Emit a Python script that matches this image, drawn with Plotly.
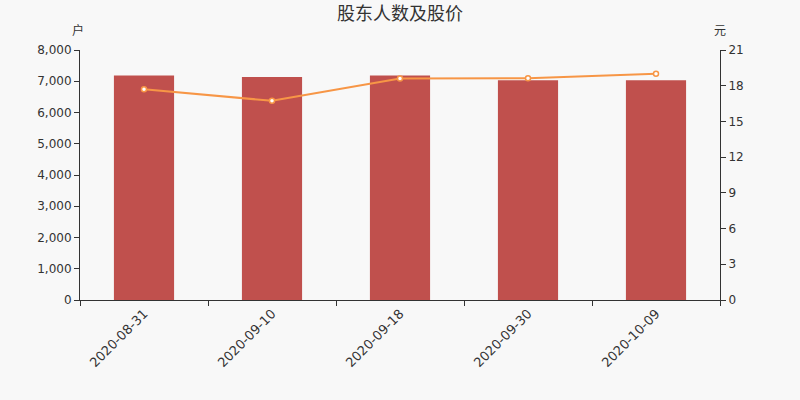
import plotly.graph_objects as go

# 数据
dates = ["2020-08-31", "2020-09-10", "2020-09-18", "2020-09-30", "2020-10-09"]
holders = [7185, 7135, 7185, 7035, 7035]
prices = [17.71, 16.73, 18.61, 18.63, 19.00]

left_ticks = [0, 1000, 2000, 3000, 4000, 5000, 6000, 7000, 8000]
right_ticks = [0, 3, 6, 9, 12, 15, 18, 21]

font_main = "DejaVu Sans, Noto Sans CJK SC"
axis_color = "#333333"

fig = go.Figure()

fig.add_trace(go.Bar(
    x=dates, y=holders, name="股东人数",
    marker=dict(color="#c0504d", line=dict(width=0)),
    width=0.47,
))

fig.add_trace(go.Scatter(
    x=dates, y=prices, name="股价", yaxis="y2",
    mode="lines+markers",
    line=dict(color="#f79646", width=2),
    marker=dict(size=5, color="#ffffff", line=dict(color="#f79646", width=1.5)),
))

fig.update_layout(
    width=800, height=400,
    paper_bgcolor="#f8f8f8", plot_bgcolor="#f8f8f8",
    margin=dict(l=80, r=80, t=50, b=100),
    showlegend=False,
    font=dict(family=font_main, size=12, color=axis_color),
    title=dict(text="股东人数及股价", x=0.5, y=0.965, xanchor="center", yanchor="middle",
               font=dict(family="Noto Sans CJK SC", size=18, color="#333333")),
    xaxis=dict(
        type="category", showline=True, linecolor=axis_color, linewidth=1,
        ticks="outside", tickson="boundaries", ticklen=5, tickcolor=axis_color,
        tickangle=-45, showgrid=False, zeroline=False,
        tickfont=dict(size=13, color=axis_color),
    ),
    yaxis=dict(
        range=[0, 8000], tickvals=left_ticks, tickformat=",d",
        showline=True, linecolor=axis_color, linewidth=1,
        ticks="outside", ticklen=5, tickcolor=axis_color,
        showgrid=False, zeroline=False,
        tickfont=dict(size=12, color=axis_color),
    ),
    yaxis2=dict(
        range=[0, 21], tickvals=right_ticks, overlaying="y", side="right",
        showline=True, linecolor=axis_color, linewidth=1,
        ticks="outside", ticklen=5, tickcolor=axis_color,
        showgrid=False, zeroline=False,
        tickfont=dict(size=12, color=axis_color),
    ),
    bargap=0.53,
)

fig.add_annotation(text="户", xref="paper", yref="paper", x=0, y=1.0, yshift=21, xshift=-2,
                   xanchor="center", yanchor="middle", showarrow=False,
                   font=dict(family="Noto Sans CJK SC", size=12, color=axis_color))
fig.add_annotation(text="元", xref="paper", yref="paper", x=1, y=1.0, yshift=21,
                   xanchor="center", yanchor="middle", showarrow=False,
                   font=dict(family="Noto Sans CJK SC", size=12, color=axis_color))

fig.write_html("out.html", config={"displayModeBar": False},
               post_script="document.body.style.margin='0';")
